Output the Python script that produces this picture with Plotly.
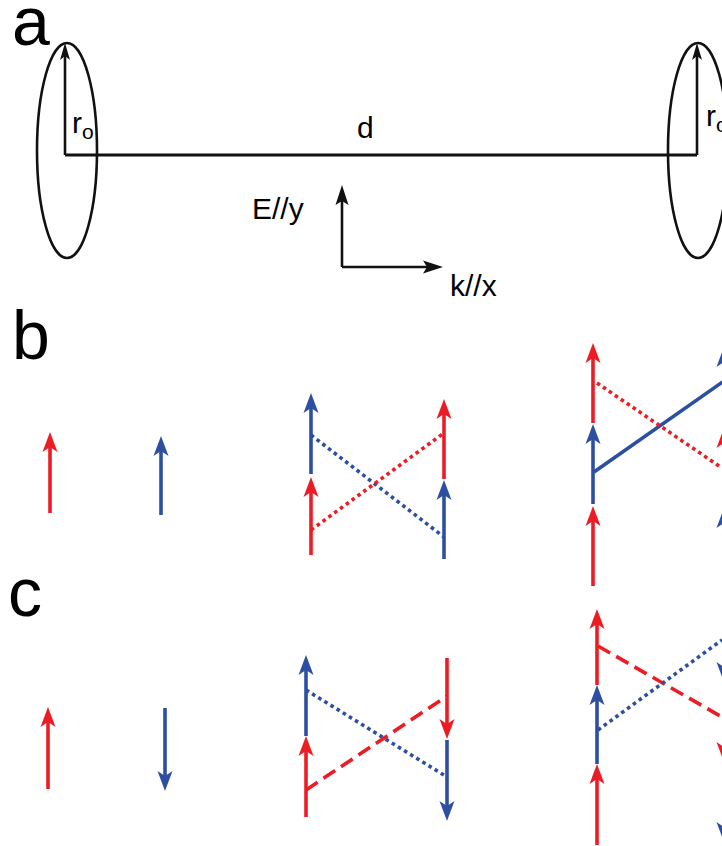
import math
import plotly.graph_objects as go

W, H = 722, 846
RED = "#EC1C24"
BLUE = "#2D4FA2"
BLACK = "#111111"
FONT = "Liberation Sans, Arial, sans-serif"

# ---------------- panel a ----------------
ellipse_boxes = [(37, 43, 97, 258), (668, 43, 728, 258)]          # x0, y0, x1, y1
axis_line = [(65, 155), (697, 155)]
black_arrow_tails = [(65, 155), (697, 155), (342, 267), (342, 267)]
black_arrow_tips = [(65, 43), (697, 43), (342, 185), (443, 267)]
black_head_len = [17, 17, 20, 20]
black_head_wid = [10, 10, 13, 13]

# ---------------- panels b, c : spin arrows ----------------
spin_colors = ["r", "b",
               "r", "b", "r", "b",
               "r", "b", "r", "b", "r", "b",
               "r", "b",
               "b", "r", "r", "b",
               "r", "b", "r", "b", "r", "b"]
spin_x = [50, 161,
          311, 311, 444, 444,
          593, 593, 593, 724, 724, 724,
          48, 165,
          306, 306, 447, 447,
          597, 597, 597, 724, 724, 724]
spin_tail_y = [513, 515,
               555, 474, 479, 559,
               423, 504, 586, 428, 510, 590,
               789, 708,
               736, 817, 658, 740,
               685, 764, 845, 602, 682, 762]
spin_tip_y = [432, 436,
              477, 393, 399, 480,
              343, 424, 506, 347, 428, 508,
              707, 791,
              655, 736, 739, 821,
              609, 685, 764, 682, 762, 842]

# ---------------- transition lines ----------------
link_colors = ["b", "r", "b", "r", "b", "r", "r", "b"]
link_styles = ["dot", "dot", "solid", "dot", "dot", "dash", "dash", "dot"]
link_x0 = [311, 311, 594, 597, 306, 306, 598, 598]
link_y0 = [435, 530, 472, 383, 690, 790, 646, 730]
link_x1 = [444, 444, 724, 722, 447, 447, 722, 722]
link_y1 = [537, 433, 381, 468, 777, 696, 717, 640]

# ---------------- texts ----------------
label_text = ["a", "b", "c"]
label_x = [10, 10, 6]
label_y = [21, 335, 592]

note_text = ["r<sub>o</sub>", "r<sub>o</sub>", "d", "E//y", "k//x"]
note_x = [70, 704, 355, 250, 448]
note_y = [124, 117, 127, 208, 285]

COLORS = {"r": RED, "b": BLUE}
DASHES = {"dot": "dot", "dash": "14px,7px", "solid": "solid"}


def arrow_head(tail, tip, L, Wd, notch):
    dx, dy = tip[0] - tail[0], tip[1] - tail[1]
    n = math.hypot(dx, dy)
    ux, uy = dx / n, dy / n
    px, py = -uy, ux
    bx, by = tip[0] - L * ux, tip[1] - L * uy
    p1 = (bx + Wd / 2 * px, by + Wd / 2 * py)
    p2 = (tip[0] - (L - notch) * ux, tip[1] - (L - notch) * uy)
    p3 = (bx - Wd / 2 * px, by - Wd / 2 * py)
    path = "M{:.2f},{:.2f} L{:.2f},{:.2f} L{:.2f},{:.2f} L{:.2f},{:.2f} Z".format(
        tip[0], tip[1], p1[0], p1[1], p2[0], p2[1], p3[0], p3[1])
    return path, p2


shapes = []
for (x0, y0, x1, y1) in ellipse_boxes:
    shapes.append(dict(type="circle", xref="x", yref="y", x0=x0, y0=y0, x1=x1, y1=y1,
                       line=dict(color=BLACK, width=2.6)))
shapes.append(dict(type="line", xref="x", yref="y", x0=axis_line[0][0], y0=axis_line[0][1],
                   x1=axis_line[1][0], y1=axis_line[1][1], line=dict(color=BLACK, width=3)))
for tail, tip, hl, hw in zip(black_arrow_tails, black_arrow_tips, black_head_len, black_head_wid):
    path, neck = arrow_head(tail, tip, hl, hw, 4)
    shapes.append(dict(type="line", xref="x", yref="y", x0=tail[0], y0=tail[1],
                       x1=neck[0], y1=neck[1], line=dict(color=BLACK, width=2.6)))
    shapes.append(dict(type="path", xref="x", yref="y", path=path, fillcolor=BLACK,
                       line=dict(width=0)))

for c, st, x0, y0, x1, y1 in zip(link_colors, link_styles, link_x0, link_y0, link_x1, link_y1):
    shapes.append(dict(type="line", xref="x", yref="y", x0=x0, y0=y0, x1=x1, y1=y1,
                       line=dict(color=COLORS[c], width=3.6, dash=DASHES[st])))

for c, x, ty, py in zip(spin_colors, spin_x, spin_tail_y, spin_tip_y):
    path, neck = arrow_head((x, ty), (x, py), 20, 15, 5)
    shapes.append(dict(type="line", xref="x", yref="y", x0=x, y0=ty, x1=neck[0], y1=neck[1],
                       line=dict(color=COLORS[c], width=3.6)))
    shapes.append(dict(type="path", xref="x", yref="y", path=path, fillcolor=COLORS[c],
                       line=dict(width=0)))

annotations = []
for t, x, y in zip(label_text, label_x, label_y):
    annotations.append(dict(text=t, x=x, y=y, xref="x", yref="y", showarrow=False,
                            xanchor="left", yanchor="middle",
                            font=dict(family=FONT, size=68, color="black")))
for t, x, y in zip(note_text, note_x, note_y):
    annotations.append(dict(text=t, x=x, y=y, xref="x", yref="y", showarrow=False,
                            xanchor="left", yanchor="middle",
                            font=dict(family=FONT, size=30, color="black")))

fig = go.Figure()
fig.add_trace(go.Scatter(x=[0, W], y=[0, H], mode="markers",
                         marker=dict(opacity=0), hoverinfo="skip", showlegend=False))
fig.update_layout(width=W, height=H, margin=dict(l=0, r=0, t=0, b=0),
                  paper_bgcolor="white", plot_bgcolor="white",
                  xaxis=dict(range=[0, W], visible=False, fixedrange=True),
                  yaxis=dict(range=[H, 0], visible=False, fixedrange=True),
                  shapes=shapes, annotations=annotations, showlegend=False,
                  hovermode=False)
fig.write_html("out.html",
               config={"displayModeBar": False, "staticPlot": True},
               post_script="document.body.style.margin='0';document.body.style.overflow='hidden';")
